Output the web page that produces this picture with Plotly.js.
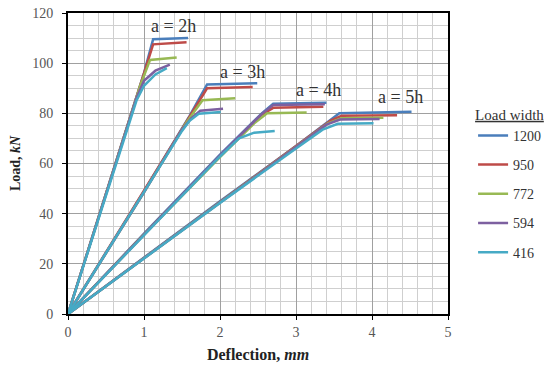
<!DOCTYPE html>
<html>
<head>
<meta charset="utf-8">
<script src="https://cdn.plot.ly/plotly-3.0.1.min.js"></script>
<style>html,body{margin:0;padding:0;background:#fff;}</style>
</head>
<body>
<div id="chart" style="width:548px;height:370px;"></div>
<script>
// Span labels and load widths
const spanLabels = ['a = 2h', 'a = 3h', 'a = 4h', 'a = 5h'];
const spanLabelX = [1.39, 2.29, 3.30, 4.38];
const spanLabelY = [114.8, 96.5, 89.3, 86.5];
const loadWidths = ['1200', '950', '772', '594', '416'];

// Deflection (mm) and load (kN) per load width, one list per span a = 2h, 3h, 4h, 5h
const defl1200 = [[0, 0.5, 1.0, 1.12, 1.58], [0, 1.0, 1.6, 1.83, 2.49], [0, 1.0, 2.0, 2.55, 2.70, 3.40], [0, 1.0, 2.0, 3.0, 3.45, 3.57, 4.52]];
const load1200 = [[0, 48, 96, 109.5, 110], [0, 49, 79, 91.5, 92], [0, 32, 63.5, 80, 83.8, 84.2], [0, 22.4, 45, 67, 77.5, 80, 80.6]];

const defl950 = [[0, 0.5, 1.0, 1.12, 1.56], [0, 1.0, 1.6, 1.83, 2.43], [0, 1.0, 2.0, 2.55, 2.70, 3.36], [0, 1.0, 2.0, 3.0, 3.45, 3.60, 4.33]];
const load950 = [[0, 48, 95.5, 107.5, 108.3], [0, 49, 78.5, 90, 90.5], [0, 31.8, 63, 79.5, 82.2, 82.6], [0, 22.3, 44.8, 66.8, 77, 79, 79.2]];

const defl772 = [[0, 0.5, 0.95, 1.08, 1.43], [0, 1.0, 1.55, 1.77, 2.20], [0, 1.0, 2.0, 2.45, 2.62, 3.14], [0, 1.0, 2.0, 3.0, 3.42, 3.60, 4.15]];
const load772 = [[0, 47.5, 91, 101.3, 102.3], [0, 48.5, 76, 85.2, 86], [0, 31.6, 62.5, 76, 80, 80.3], [0, 22.2, 44.5, 66.5, 76, 78, 78.2]];

const defl594 = [[0, 0.5, 0.9, 1.0, 1.15, 1.34], [0, 1.0, 1.5, 1.62, 1.74, 2.04], [0, 1.0, 2.0, 2.55, 2.70, 3.38], [0, 1.0, 2.0, 3.0, 3.40, 3.58, 4.10]];
const load594 = [[0, 47.5, 86, 93, 97, 99.4], [0, 48.5, 73.5, 78, 81, 81.8], [0, 31.8, 63.2, 79.8, 83.3, 83.6], [0, 22.2, 44.5, 66.4, 75.5, 77.5, 77.7]];

const defl416 = [[0, 0.5, 0.9, 1.0, 1.15, 1.30], [0, 1.0, 1.5, 1.60, 1.72, 2.01], [0, 1.0, 2.0, 2.25, 2.45, 2.72], [0, 1.0, 2.0, 3.0, 3.35, 3.55, 4.02]];
const load416 = [[0, 47.5, 85, 91, 95.5, 98], [0, 48.5, 73, 77, 79.8, 80.5], [0, 31.5, 62.8, 70, 72.3, 73], [0, 22.1, 44.3, 66, 73.5, 75.8, 76]];

const seriesDefl = [defl1200, defl950, defl772, defl594, defl416];
const seriesLoad = [load1200, load950, load772, load594, load416];
const seriesColors = ['#4A7EBB', '#BE4B48', '#98B954', '#7D60A0', '#46AAC5'];

function joinSpans(lists) {
  const out = [];
  lists.forEach((l, i) => { if (i > 0) out.push(null); out.push(...l); });
  return out;
}

const traces = loadWidths.map((w, i) => ({
  type: 'scatter',
  mode: 'lines',
  name: w,
  legendgroup: 'g' + w,
  x: joinSpans(seriesDefl[i]),
  y: joinSpans(seriesLoad[i]),
  connectgaps: false,
  line: {color: seriesColors[i], width: 2.5},
  hoverinfo: 'skip'
}));

const serif = 'Liberation Serif, Times New Roman, serif';

const annotations = spanLabels.map((t, i) => ({
  x: spanLabelX[i], y: spanLabelY[i], xref: 'x', yref: 'y',
  text: t, showarrow: false,
  font: {family: serif, size: 18, color: '#333'}
}));

const layout = {
  width: 548, height: 370,
  margin: {l: 68, r: 100, t: 13, b: 56, autoexpand: false},
  paper_bgcolor: '#fff', plot_bgcolor: '#fff',
  showlegend: true,
  xaxis: {
    range: [0, 5], dtick: 1, tick0: 0,
    showgrid: true, gridcolor: '#a0a0a0', gridwidth: 1,
    minor: {dtick: 0.2, showgrid: true, gridcolor: '#cfcfcf', gridwidth: 1},
    showline: true, linecolor: '#000', linewidth: 2, mirror: true,
    ticks: 'outside', ticklen: 4, tickcolor: '#000', tickwidth: 1,
    zeroline: false,
    tickfont: {family: serif, size: 14, color: '#555'},
    title: {text: '<b>Deflection, <i>mm</i></b>', font: {family: serif, size: 16, color: '#222'}, standoff: 10}
  },
  yaxis: {
    range: [0, 120], dtick: 20, tick0: 0,
    showgrid: true, gridcolor: '#a0a0a0', gridwidth: 1,
    minor: {dtick: 5, showgrid: true, gridcolor: '#cfcfcf', gridwidth: 1},
    showline: true, linecolor: '#000', linewidth: 2, mirror: true,
    ticks: 'outside', ticklen: 4, tickcolor: '#000', tickwidth: 1,
    ticklabelstandoff: 6,
    zeroline: false,
    tickfont: {family: serif, size: 14, color: '#555'},
    title: {text: '<b>Load, <i>kN</i></b>', font: {family: serif, size: 14, color: '#222'}, standoff: 8}
  },
  legend: {
    x: 1.066, xanchor: 'left', y: 0.71, yanchor: 'top',
    font: {family: serif, size: 14, color: '#333'},
    title: {text: '<span style="text-decoration:underline">Load width</span>', font: {family: serif, size: 15, color: '#333'}},
    tracegroupgap: 8,
    bgcolor: 'rgba(0,0,0,0)'
  },
  annotations: annotations
};

Plotly.newPlot('chart', traces, layout, {displayModeBar: false, staticPlot: true});
</script>
</body>
</html>
